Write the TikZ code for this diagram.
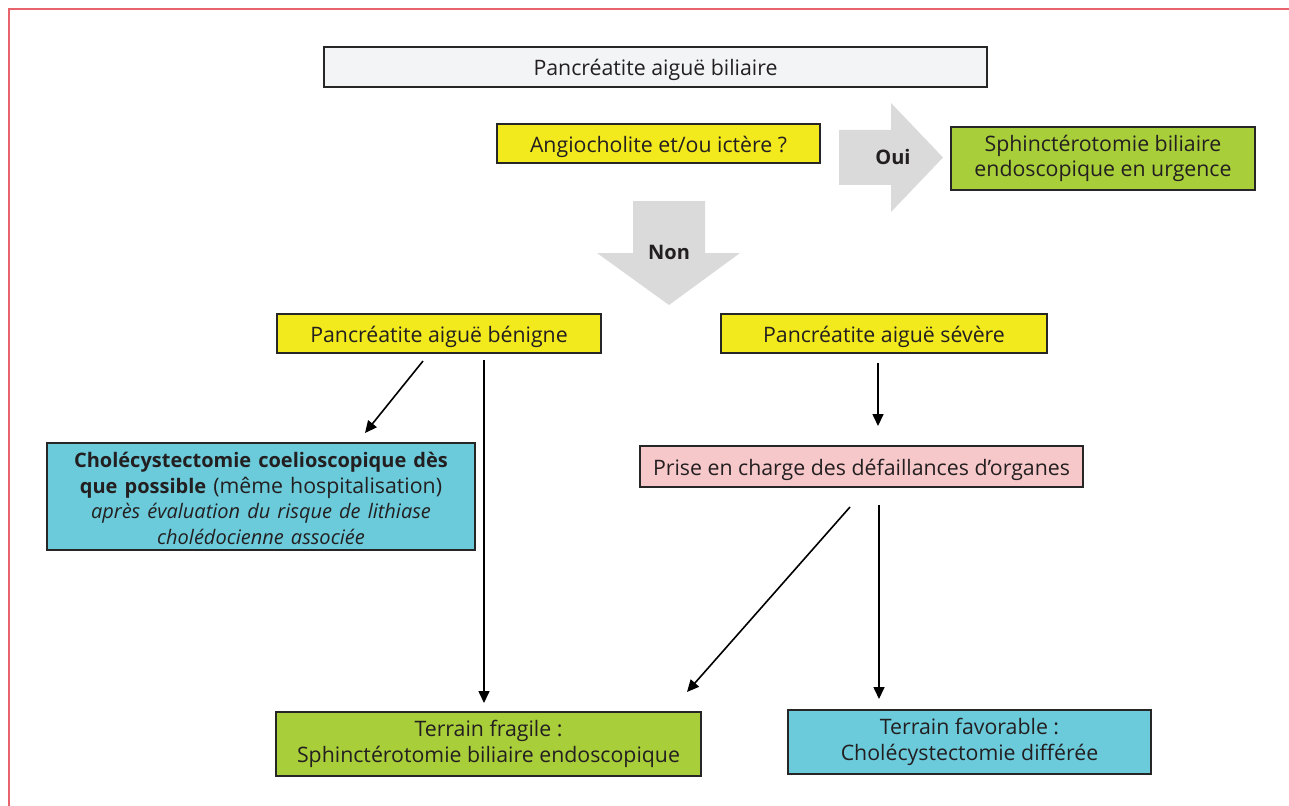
\documentclass[tikz,border=0pt]{standalone}
\usepackage{fontspec}
\setmainfont{Open Sans}
\usetikzlibrary{arrows.meta}
\definecolor{frame}{HTML}{E8636B}
\definecolor{txt}{HTML}{231F20}
\definecolor{grayfill}{HTML}{F3F4F6}
\definecolor{yel}{HTML}{F2EA1C}
\definecolor{grn}{HTML}{A8CE3A}
\definecolor{cyn}{HTML}{6BCBDB}
\definecolor{pnk}{HTML}{F7C8CA}
\definecolor{bigarrow}{HTML}{DADADA}
\newcommand{\bsz}{\fontsize{20}{25.5}\selectfont}
\tikzset{
  box/.style={draw=black!85, line width=1.4pt, text=txt, inner sep=0pt, align=center,
    font=\fontsize{21.3}{25.5}\selectfont,
    execute at begin node={\rule{0pt}{23pt}},
    execute at end node={\rule[-4pt]{0pt}{4pt}}},
  conn/.style={line width=1.6pt, -{Triangle[length=12pt,width=11pt]}},
  biglabel/.style={text=txt, font=\fontsize{20}{24}\selectfont\bfseries}
}
\begin{document}
\begin{tikzpicture}[x=1pt,y=-1pt]
\useasboundingbox (0,0) rectangle (1289,805);
\fill[white] (0,0) rectangle (1289,805);
\draw[frame, line width=2pt] (9,806) -- (9,9) -- (1290,9);

% nodes
\node[box, fill=grayfill, minimum width=663pt, minimum height=40pt] (top) at (655.5,67) {Pancréatite aiguë biliaire};
\node[box, fill=yel, minimum width=323pt, minimum height=39pt] (angio) at (658.5,143.5) {Angiocholite et/ou ictère ?};
\node[box, fill=grn, minimum width=304pt, minimum height=63pt] (sphu) at (1103,158.5) {Sphinctérotomie biliaire\\endoscopique en urgence};
\node[box, fill=yel, minimum width=324pt, minimum height=39pt] (benigne) at (439,333.5) {Pancréatite aiguë bénigne};
\node[box, fill=yel, minimum width=326pt, minimum height=39pt] (severe) at (884,333.5) {Pancréatite aiguë sévère};
\node[box, fill=cyn, minimum width=428pt, minimum height=107pt, text width=424pt] (chole) at (261,496.5)
  {{\bsz\bfseries Cholécystectomie coelioscopique dès}\\{\bsz\bfseries que possible} (même hospitalisation)\\{\bsz\itshape après évaluation du risque de lithiase}\\{\bsz\itshape cholédocienne associée}};
\node[box, fill=pnk, minimum width=443pt, minimum height=41pt] (prise) at (861.5,466.5) {Prise en charge des défaillances d’organes};
\node[box, fill=grn, minimum width=425pt, minimum height=64pt] (fragile) at (488.5,744) {Terrain fragile :\\Sphinctérotomie biliaire endoscopique};
\node[box, fill=cyn, minimum width=363pt, minimum height=64pt] (favorable) at (969.5,742) {Terrain favorable :\\Cholécystectomie différée};

% big grey arrows
\fill[bigarrow] (839,130) -- (891,130) -- (891,103) -- (943,157.5) -- (891,212) -- (891,185) -- (839,185) -- cycle;
\node[biglabel] (oui) at (893,157) {Oui};
\fill[bigarrow] (633,201) -- (705,201) -- (705,253) -- (740,253) -- (669,305) -- (597,253) -- (633,253) -- cycle;
\node[biglabel] (non) at (669,252) {Non};

% connector endpoints
\coordinate (a1s) at (423,361);
\coordinate (a1e) at (365,433);
\coordinate (a2s) at (484,360);
\coordinate (a2e) at (484,703);
\coordinate (a3s) at (878,363);
\coordinate (a3e) at (878,426);
\coordinate (a4s) at (850,507);
\coordinate (a4e) at (687,692);
\coordinate (a5s) at (879,505);
\coordinate (a5e) at (879,699);

\draw[conn] (a1s) -- (a1e);
\draw[conn] (a2s) -- (a2e);
\draw[conn] (a3s) -- (a3e);
\draw[conn] (a4s) -- (a4e);
\draw[conn] (a5s) -- (a5e);
\end{tikzpicture}
\end{document}
